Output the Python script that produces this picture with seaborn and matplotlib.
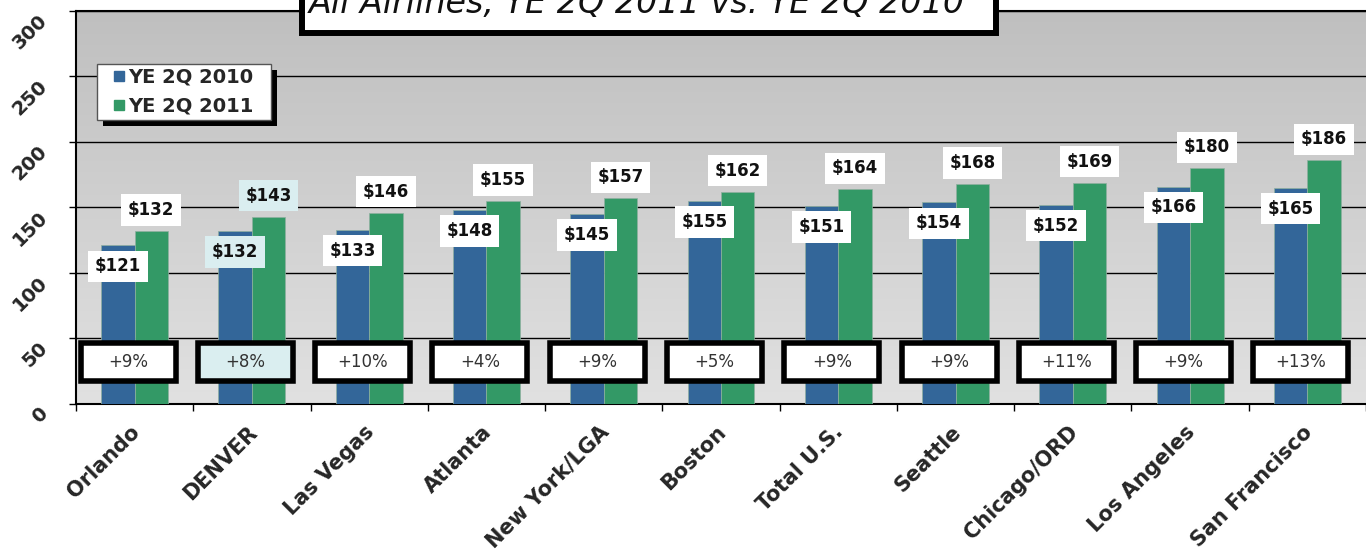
import numpy as np
import pandas as pd
import matplotlib.pyplot as plt
import matplotlib.patches as mpatches
from matplotlib.lines import Line2D
from matplotlib.colors import LinearSegmentedColormap
from matplotlib.transforms import ScaledTranslation, IdentityTransform
import seaborn as sns

cities = ['Orlando', 'DENVER', 'Las Vegas', 'Atlanta', 'New York/LGA', 'Boston',
          'Total U.S.', 'Seattle', 'Chicago/ORD', 'Los Angeles', 'San Francisco']
fare_2010 = [121, 132, 133, 148, 145, 155, 151, 154, 152, 166, 165]
fare_2011 = [132, 143, 146, 155, 157, 162, 164, 168, 169, 180, 186]
pct_change = ['+9%', '+8%', '+10%', '+4%', '+9%', '+5%', '+9%', '+9%', '+11%', '+9%', '+13%']
series = ['YE 2Q 2010', 'YE 2Q 2011']
colors = ['#336699', '#339966']
highlight = 'DENVER'
title = 'All Airlines, YE 2Q 2011 vs. YE 2Q 2010'

df = pd.DataFrame({
    'city': cities * 2,
    'year': [series[0]] * len(cities) + [series[1]] * len(cities),
    'fare': fare_2010 + fare_2011,
})

sns.set_style('white')
plt.rcParams['font.family'] = ['DejaVu Sans']

fig = plt.figure(figsize=(13.66, 5.57), dpi=100)
ax = fig.add_axes([0.0556, 0.2747, 0.9444, 0.7056])

bar_w = 0.57
sns.barplot(data=df, x='city', y='fare', hue='year', palette=colors, width=bar_w,
            saturation=1, legend=False, ax=ax, zorder=3, edgecolor='#8fb0a0', linewidth=0.5)

# gradient plot background
bg = LinearSegmentedColormap.from_list('bg', ['#bfbfbf', '#e1e1e1'])
ax.imshow(np.linspace(0, 1, 256).reshape(-1, 1), extent=[0, 1, 0, 1], transform=ax.transAxes,
          cmap=bg, aspect='auto', zorder=0)
ax.set_xlim(-0.5, len(cities) - 0.5)
ax.set_ylim(0, 300)

ax.yaxis.grid(True, color='black', lw=1)
ax.set_axisbelow(True)
for s in ['left', 'bottom', 'top']:
    ax.spines[s].set_visible(True)
    ax.spines[s].set_color('black')
    ax.spines[s].set_linewidth(1.5)
ax.spines['right'].set_visible(False)

ax.set_yticks(range(0, 301, 50))
ax.set_yticklabels([str(v) for v in range(0, 301, 50)], rotation=45, ha='right', va='top',
                   fontsize=14, fontweight='bold')
ax.tick_params(axis='y', length=5, width=1, color='black', direction='out', pad=13, left=True)

ax.set_xticks(range(len(cities)))
ax.set_xticklabels(cities, rotation=45, ha='right', rotation_mode='anchor',
                   fontsize=15, fontweight='bold')
ax.set_xticks(np.arange(-0.5, len(cities), 1), minor=True)
ax.tick_params(axis='x', which='major', length=0, pad=13)
ax.tick_params(axis='x', which='minor', length=5, width=1, color='black', direction='out', bottom=True)
for lbl in ax.get_xticklabels():
    lbl.set_transform(lbl.get_transform() + ScaledTranslation(-0.05, 0, fig.dpi_scale_trans))
ax.set_xlabel('')
ax.set_ylabel('')

# value labels
for i, city in enumerate(cities):
    fc = '#daeef0' if city == highlight else 'white'
    ax.text(i - bar_w / 4, fare_2010[i] - 16, f'${fare_2010[i]}', ha='center', va='center',
            fontsize=12, fontweight='bold', color='#111111', zorder=5,
            bbox=dict(boxstyle='square,pad=0.4', fc=fc, ec='none'))
    ax.text(i + bar_w / 4, fare_2011[i] + 16, f'${fare_2011[i]}', ha='center', va='center',
            fontsize=12, fontweight='bold', color='#111111', zorder=5,
            bbox=dict(boxstyle='square,pad=0.4', fc=fc, ec='none'))
    # percentage change boxes
    ax.add_patch(mpatches.Rectangle((i - 0.055 - 0.405, 17.8), 0.81, 28.6, fc=fc, ec='black',
                                    lw=4, zorder=6))
    ax.text(i - 0.055, 32, pct_change[i], ha='center', va='center', fontsize=12,
            color='#333333', zorder=7)

# legend with hard black shadow
handles = [Line2D([], [], marker='s', markersize=7.5, linestyle='none', color=c, label=s + '  ')
           for c, s in zip(colors, series)]
leg = ax.legend(handles=handles, loc='upper left', bbox_to_anchor=(0.0163, 0.865),
                prop={'weight': 'bold', 'size': 14}, frameon=True, fancybox=False,
                borderaxespad=0, handlelength=1.85, handletextpad=-0.46,
                borderpad=0.2, labelspacing=0.5, framealpha=1)
leg.get_frame().set_edgecolor('#555555')
leg.get_frame().set_linewidth(1)
leg.set_zorder(20)
fig.canvas.draw()
bb = leg.get_window_extent()
shadow = mpatches.Rectangle((bb.x0 + 6, bb.y0 - 6), bb.width, bb.height,
                            transform=IdentityTransform(), fc='black', ec='none', zorder=15)
ax.add_artist(shadow)

# title box (cut off at top of figure, as in the original)
H = 557.0
fig.patches.append(mpatches.Rectangle((302 / 1366, 1 - 33 / H), (996 - 302) / 1366, 60 / H,
                                      transform=fig.transFigure, fc='white', ec='black',
                                      lw=4.3, zorder=30))
fig.text(637 / 1366, 1 - 13 / H, title, ha='center', va='baseline', fontsize=24,
         fontstyle='italic', color='#111111', zorder=31)

fig.savefig('out.png', dpi=100)
